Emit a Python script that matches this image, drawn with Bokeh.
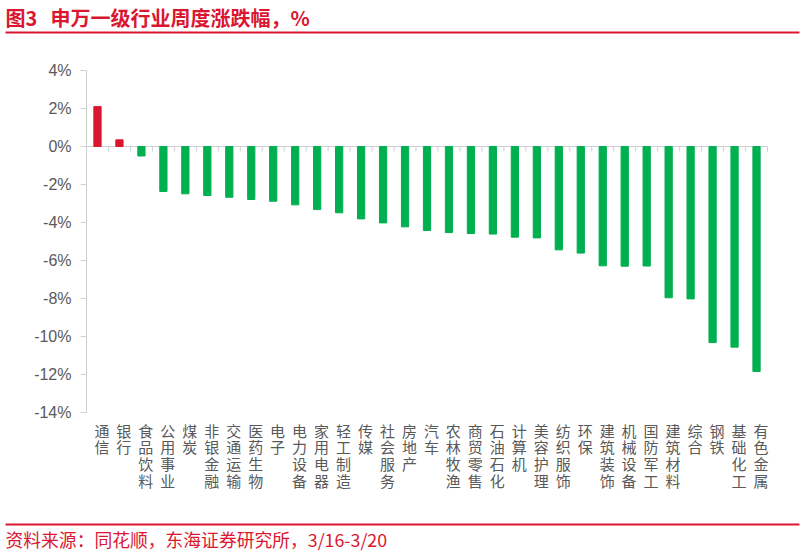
from bokeh.plotting import figure
from bokeh.models import (Range1d, LinearAxis, FixedTicker, CustomJSTickFormatter,
                          PrintfTickFormatter, ColumnDataSource, Label, BoxAnnotation)
from bokeh.embed import file_html
from bokeh.resources import INLINE

title_head = "图3"
title_body = "申万一级行业周度涨跌幅，%"
source_text = "资料来源：同花顺，东海证券研究所，3/16-3/20"

industries = ["通信", "银行", "食品饮料", "公用事业", "煤炭", "非银金融", "交通运输", "医药生物",
              "电子", "电力设备", "家用电器", "轻工制造", "传媒", "社会服务", "房地产", "汽车",
              "农林牧渔", "商贸零售", "石油石化", "计算机", "美容护理", "纺织服饰", "环保",
              "建筑装饰", "机械设备", "国防军工", "建筑材料", "综合", "钢铁", "基础化工", "有色金属"]
changes = [2.10, 0.35, -0.50, -2.37, -2.49, -2.58, -2.67, -2.79,
           -2.88, -3.07, -3.32, -3.49, -3.81, -4.02, -4.23, -4.42,
           -4.53, -4.58, -4.61, -4.77, -4.81, -5.44, -5.61,
           -6.28, -6.30, -6.29, -7.96, -8.02, -10.32, -10.56, -11.84]
y_ticks = [4, 2, 0, -2, -4, -6, -8, -10, -12, -14]

RED = "#DA1630"
GREEN = "#00B050"
GRAY_TXT = "#595959"
AXIS_GRAY = "#D0D0D0"
CJK_NAME = "Noto Sans CJK SC"
LAT_NAME = "Liberation Sans"

# canvas and plot-area geometry (pixels)
W, H = 805, 553
AREA_L, AREA_R, AREA_T, AREA_B = 86, 767, 70, 412
TICK_LEN = 5

n = len(industries)
y_lo, y_hi = min(y_ticks), max(y_ticks)
px_x = (AREA_R - AREA_L) / n
px_y = (AREA_B - AREA_T) / (y_hi - y_lo)
x_range = Range1d(0 - AREA_L / px_x, n + (W - AREA_R) / px_x)
y_range = Range1d(y_lo - (H - AREA_B) / px_y, y_hi + AREA_T / px_y)

xs = [i + 0.5 for i in range(n)]
colors = [RED if v > 0 else GREEN for v in changes]
src = ColumnDataSource(dict(x=xs, top=changes, color=colors))

p = figure(width=W, height=H, x_range=x_range, y_range=y_range,
           toolbar_location=None, output_backend="svg", min_border=0,
           x_axis_type=None, y_axis_type=None, outline_line_color=None)
p.grid.visible = False

# zero baseline with category-boundary ticks
bounds = list(range(n + 1))
p.segment(x0=[0], y0=[0], x1=[n], y1=[0], line_color=AXIS_GRAY, line_width=1)
p.segment(x0=bounds, y0=[0] * len(bounds), x1=bounds, y1=[-TICK_LEN / px_y] * len(bounds),
          line_color=AXIS_GRAY, line_width=1)

p.vbar(x="x", top="top", bottom=0, width=0.33, color="color", source=src)

# y axis
ya = LinearAxis(fixed_location=0, bounds=(y_lo, y_hi), ticker=FixedTicker(ticks=y_ticks),
                formatter=PrintfTickFormatter(format="%d%%"))
ya.axis_line_color = AXIS_GRAY
ya.major_tick_line_color = AXIS_GRAY
ya.major_tick_out = 6
ya.major_tick_in = 0
ya.minor_tick_line_color = None
ya.major_label_standoff = 9
ya.major_label_text_font = LAT_NAME
ya.major_label_text_font_size = "16px"
ya.major_label_text_color = GRAY_TXT
p.add_layout(ya, "left")

# category label axis at the bottom of the plot area
xa = LinearAxis(fixed_location=y_lo, ticker=FixedTicker(ticks=[i + 0.7 for i in range(n)]))
xa.formatter = CustomJSTickFormatter(args=dict(names=industries), code="""
    const i = Math.floor(tick);
    if (i < 0 || i >= names.length) return '';
    return Array.from(names[i]).join('\\n');
""")
xa.axis_line_color = None
xa.major_tick_line_color = None
xa.minor_tick_line_color = None
xa.major_tick_out = 0
xa.major_tick_in = 0
xa.major_label_standoff = 7
xa.major_label_orientation = "horizontal"
xa.major_label_text_font = CJK_NAME
xa.major_label_text_font_size = "15px"
xa.major_label_text_line_height = 0.8
xa.major_label_text_color = GRAY_TXT
p.add_layout(xa, "below")

# header / footer texts and rules (canvas units)
p.add_layout(Label(x=5, y=17, x_units="canvas", y_units="canvas", text=title_head,
                   text_baseline="middle", text_align="left", text_font=CJK_NAME,
                   text_font_size="20px", text_font_style="bold", text_color=RED))
p.add_layout(Label(x=50, y=17, x_units="canvas", y_units="canvas", text=title_body,
                   text_baseline="middle", text_align="left", text_font=CJK_NAME,
                   text_font_size="20px", text_font_style="bold", text_color=RED))
p.add_layout(BoxAnnotation(left=5, right=799, top=31, bottom=33,
                           left_units="canvas", right_units="canvas",
                           top_units="canvas", bottom_units="canvas",
                           fill_color=RED, fill_alpha=1, line_color=None))
p.add_layout(BoxAnnotation(left=5, right=799, top=523, bottom=525,
                           left_units="canvas", right_units="canvas",
                           top_units="canvas", bottom_units="canvas",
                           fill_color=RED, fill_alpha=1, line_color=None))
p.add_layout(Label(x=5, y=538, x_units="canvas", y_units="canvas", text=source_text,
                   text_baseline="middle", text_align="left", text_font=CJK_NAME,
                   text_font_size="17.8px", text_color=RED))

open("out.html", "w").write(file_html(p, INLINE))
